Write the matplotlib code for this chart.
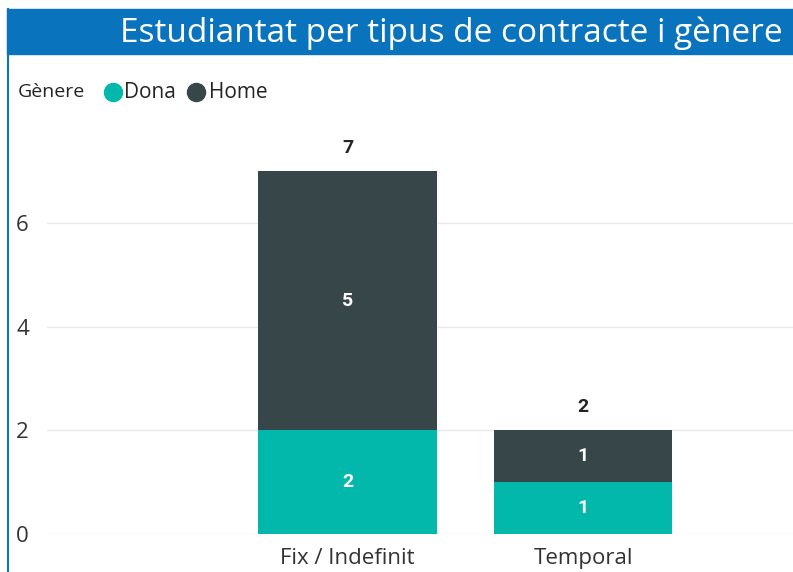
import matplotlib
matplotlib.use("Agg")
import matplotlib.pyplot as plt
from matplotlib.patches import Rectangle
from matplotlib.lines import Line2D
import numpy as np

categories = ["Fix / Indefinit", "Temporal"]
dona = [2, 1]
home = [5, 1]
series_names = ["Dona", "Home"]
title = "Estudiantat per tipus de contracte i gènere"
legend_title = "Gènere"
yticks = [0, 2, 4, 6]

plt.rcParams['font.family'] = ['Open Sans', 'DejaVu Sans']

W, H = 793, 572
fig = plt.figure(figsize=(W / 100, H / 100), dpi=100)

blue = "#0A73BE"
c_dona = "#01B8AA"
c_home = "#374649"
txt = "#252423"

# title bar
fig.patches.append(Rectangle((7 / W, 1 - 54 / H), 1 - 7 / W, 45 / H,
                             transform=fig.transFigure, color=blue, zorder=0))
fig.lines.append(Line2D([7.5 / W, 7.5 / W], [0, 1 - 9 / H], transform=fig.transFigure,
                        color=blue, lw=1.5))
fig.text(783 / W, 1 - 33 / H, title, ha='right', va='center', color='white',
         fontsize=24, family=['Open Sans', 'DejaVu Sans'])

# axes
left_px, right_px, bottom_px, top_px = 47, 793, 534, 130
ax = fig.add_axes([left_px / W, 1 - bottom_px / H, (right_px - left_px) / W,
                   (bottom_px - top_px) / H])
x = np.arange(len(categories))
bw = 0.76
ax.bar(x, dona, width=bw, color=c_dona, zorder=3)
ax.bar(x, home, width=bw, bottom=dona, color=c_home, zorder=3)

lab_font = ['Roboto', 'DejaVu Sans']
for i in range(len(categories)):
    ax.text(x[i], dona[i] / 2, str(dona[i]), ha='center', va='center', color='white',
            fontsize=14, fontweight='bold', family=lab_font, zorder=4)
    ax.text(x[i], dona[i] + home[i] / 2, str(home[i]), ha='center', va='center',
            color='white', fontsize=14, fontweight='bold', family=lab_font, zorder=4)
    tot = dona[i] + home[i]
    ax.text(x[i], tot + 0.45, str(tot), ha='center', va='center', color=txt,
            fontsize=14, fontweight='bold', family=lab_font, zorder=4)

px_per_unit = 235.5
ax.set_xlim((left_px - 347.5) / px_per_unit, (right_px - 347.5) / px_per_unit)
ax.set_ylim(0, (bottom_px - top_px) / 51.8)
ax.set_yticks(yticks)
ax.set_yticklabels([str(t) for t in yticks])
ax.set_xticks(x)
ax.set_xticklabels(categories)
ax.tick_params(axis='both', length=0, labelsize=16, colors='#333333')
ax.tick_params(axis='y', pad=13)
ax.tick_params(axis='x', pad=10)
ax.grid(axis='y', color='#E8E8E8', lw=1, zorder=0)
for s in ax.spines.values():
    s.set_visible(False)

# legend
ly = 1 - 92 / H
fig.text(18 / W, ly, legend_title, ha='left', va='center', fontsize=14,
         color=txt, fontweight='medium')
fig.lines.append(Line2D([113 / W], [ly], transform=fig.transFigure,
                        marker='o', ms=13, color=c_dona, lw=0))
fig.text(124 / W, ly, series_names[0], ha='left', va='center', fontsize=15,
         color=txt)
fig.lines.append(Line2D([196 / W], [ly], transform=fig.transFigure,
                        marker='o', ms=13, color=c_home, lw=0))
fig.text(209 / W, ly, series_names[1], ha='left', va='center', fontsize=15,
         color=txt)

fig.savefig("out.png", dpi=100, facecolor='white')
